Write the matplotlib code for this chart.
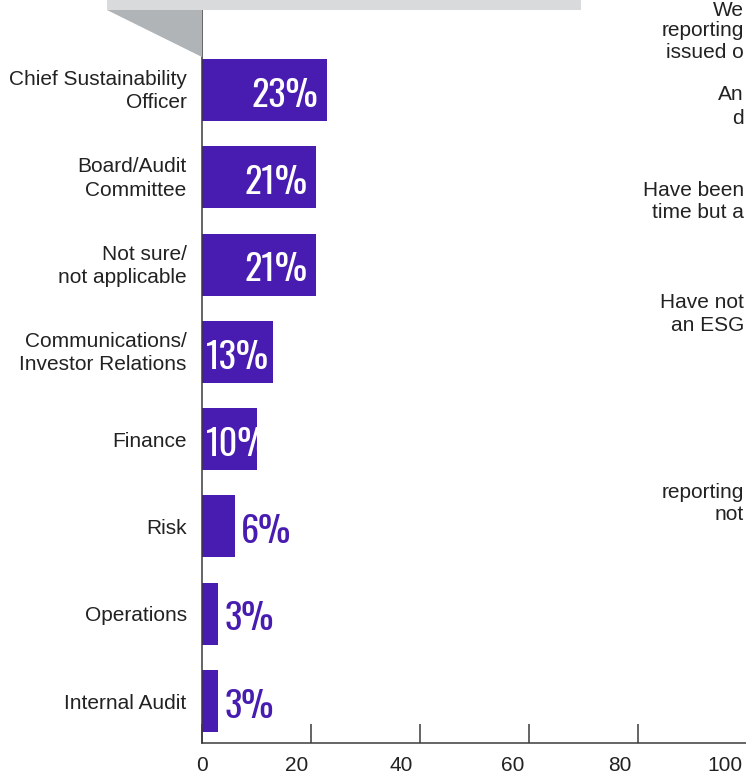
import matplotlib
matplotlib.use("Agg")
import matplotlib.pyplot as plt
from matplotlib.patches import Rectangle, Polygon
from matplotlib.transforms import ScaledTranslation, blended_transform_factory

# data
categories = ["Chief Sustainability\nOfficer", "Board/Audit\nCommittee", "Not sure/\nnot applicable",
              "Communications/\nInvestor Relations", "Finance", "Risk", "Operations", "Internal Audit"]
values = [23, 21, 21, 13, 10, 6, 3, 3]
xticks = [0, 20, 40, 60, 80, 100]

# neighbouring panel text, cut off at the right edge of the picture
side_lines = ["We", "reporting", "issued o", "An", "d", "Have been", "time but a",
              "Have not", "an ESG", "reporting", "not"]

# style
purple = "#481cb0"
txt = "#222222"
spine_col = "#3a3a3a"
W, H = 746, 775
lab_font = "Liberation Sans"
num_font = ["Oswald", "Anton", "DejaVu Sans"]

fig = plt.figure(figsize=(W / 100, H / 100), dpi=100)
ax = fig.add_axes([202 / W, 32 / H, 545 / W, 733 / H])

pos = list(range(len(values)))
ax.barh(pos, values, height=0.71, color=purple, zorder=2)
ax.set_xlim(0, 100)
ax.set_ylim(7.481, -0.9165)

ax.set_yticks(pos)
ax.set_yticklabels(categories, fontsize=15, family=lab_font, color=txt, linespacing=1.3)
ax.tick_params(axis="y", length=0, pad=11)
for lbl in ax.get_yticklabels():
    if "\n" in lbl.get_text():
        lbl.set_transform(lbl.get_transform() + ScaledTranslation(0, 3 / 100, fig.dpi_scale_trans))

ax.set_xticks(xticks)
ax.set_xticklabels([])
ax.tick_params(axis="x", direction="in", length=14, width=1.1, color=spine_col)
tr = blended_transform_factory(ax.transData, ax.transAxes)
shift = [0, -14, -19, -16, -18, -22]
for v, dx in zip(xticks, shift):
    ax.text(v, 0, str(v), transform=tr + ScaledTranslation(dx / 100, -13 / 100, fig.dpi_scale_trans),
            ha="center", va="top", fontsize=15, family=lab_font, color=txt)

for s in ["top", "right"]:
    ax.spines[s].set_visible(False)
for s in ["left", "bottom"]:
    ax.spines[s].set_color(spine_col)
    ax.spines[s].set_linewidth(1.1)

# value labels
for p, v in zip(pos, values):
    if v >= 20:
        kw = dict(xytext=(-6.5, -12), ha="right", color="white")
    elif v >= 10:
        kw = dict(xytext=(2.5, -12), ha="left", color="white")
    else:
        kw = dict(xytext=(4.5, -12), ha="left", color=purple)
    xx = 0 if 10 <= v < 20 else v
    ax.annotate(f"{v}%", (xx, p), textcoords="offset points", va="baseline",
                fontsize=26, family=num_font, fontweight="bold",
                zorder=3, **kw)

# grey header strip and wedge
fig.add_artist(Rectangle((107 / W, 1 - 10 / H), 474 / W, 10 / H, transform=fig.transFigure,
                         color="#d9dadc", lw=0))
fig.add_artist(Polygon([(107 / W, 1 - 10 / H), (202 / W, 1 - 10 / H), (202 / W, 1 - 57 / H)],
                       closed=True, transform=fig.transFigure, color="#b1b4b7", lw=0))

side_y = [11, 31, 53, 95, 118, 190, 213, 302, 325, 492, 515]
for s, y in zip(side_lines, side_y):
    fig.text(744 / W, 1 - y / H, s, ha="right", va="center", fontsize=15, family=lab_font, color=txt)

plt.savefig("out.png", dpi=100)
